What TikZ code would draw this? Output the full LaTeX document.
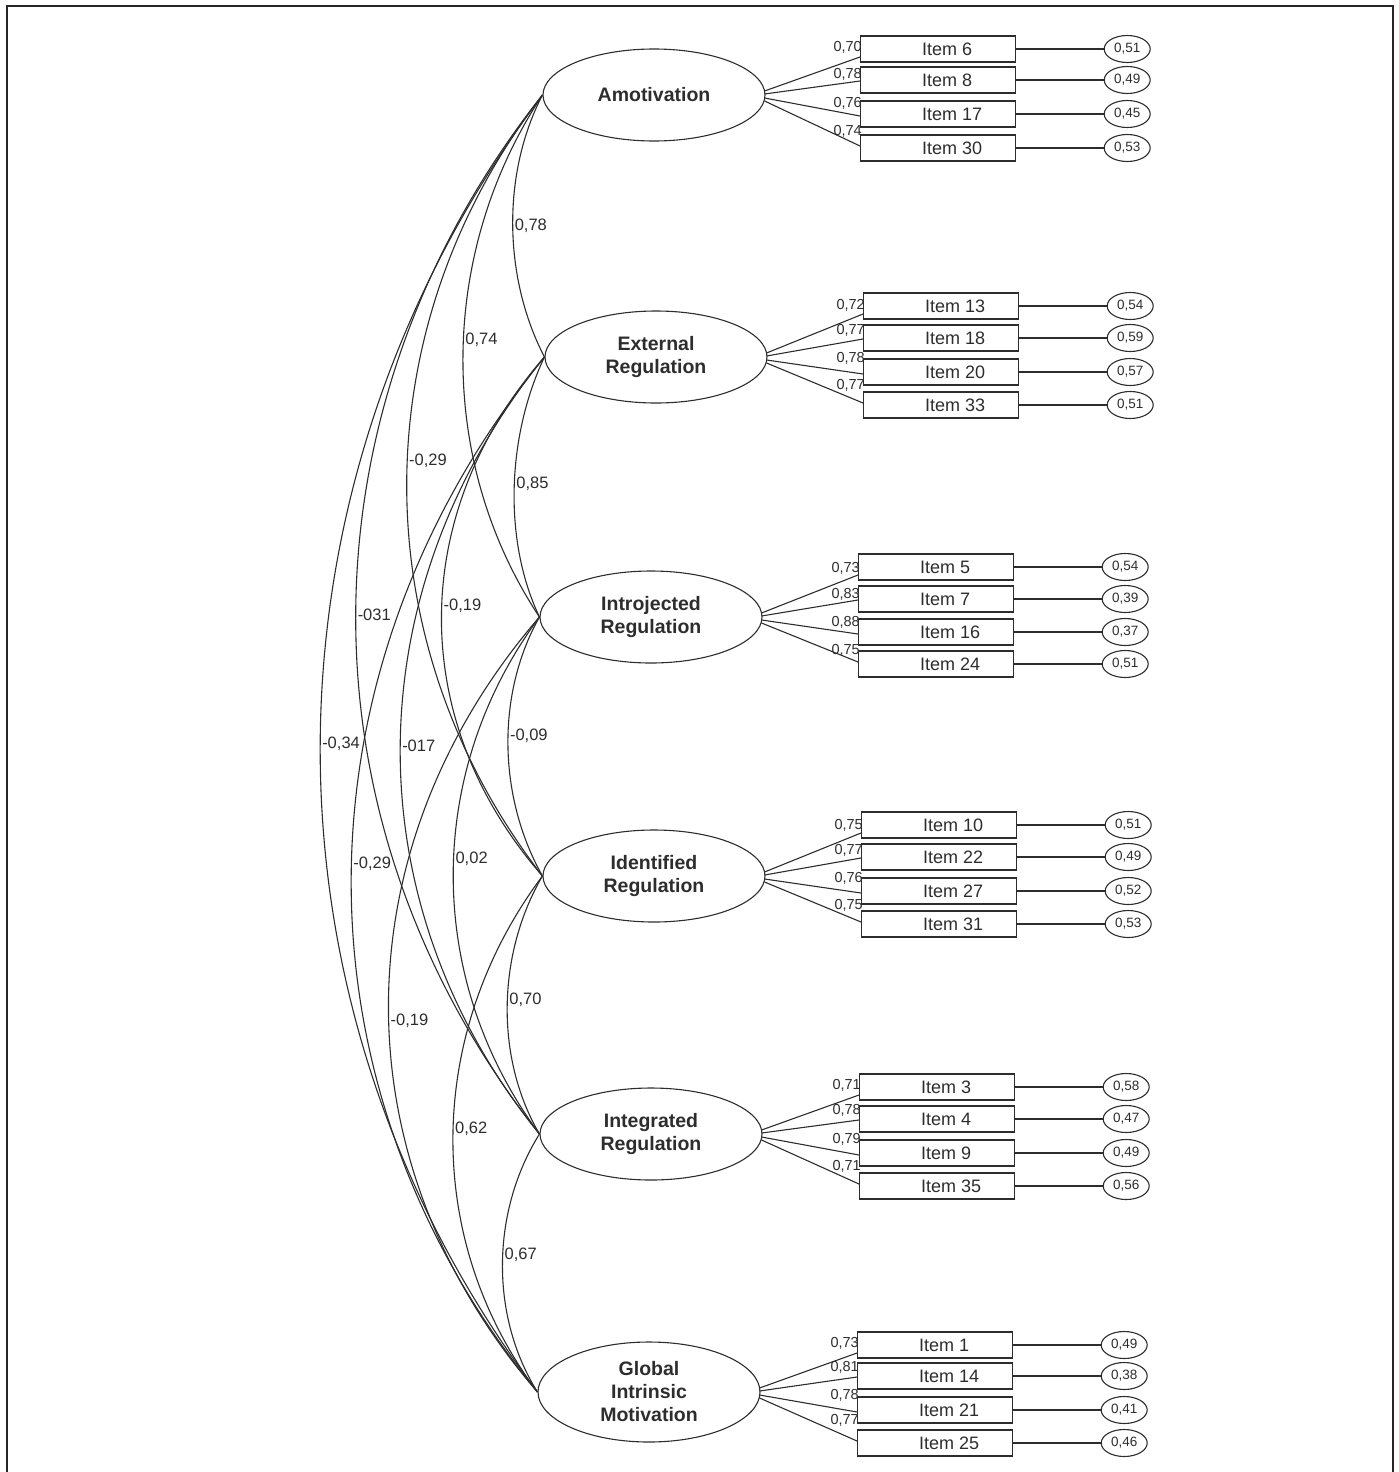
\documentclass[tikz,border=0pt]{standalone}
\usepackage{fontspec}
\setmainfont{Liberation Sans}
\usetikzlibrary{shapes.geometric,calc}
\definecolor{ink}{RGB}{45,45,45}
\newcommand{\myrow}[9]{%
  \node[itembox, anchor=west] (it#3) at (#2,#4) {};
  \node[itemtxt] at ($(it#3.west)+(62,0)$) {Item #3};
  \node[errell] (er#3) at ($(it#3.east)+(111,0)$) {#7};
  \draw[ln] (it#3.east) -- (er#3.west);
  \draw[ln] ($(#1.east)+(-1,#8)$) -- ($(it#3.west)+(0,#9)$);
  \node[llab] at (#2+2,#6) {#5};
}
\begin{document}
\begin{tikzpicture}[x=1pt,y=-1pt,
  every node/.style={text=ink},
  latent/.style={ellipse, draw=ink, line width=1.1pt, minimum width=222pt, minimum height=92pt, inner sep=0pt, align=center, font=\fontsize{19.5}{23}\selectfont\bfseries},
  itembox/.style={rectangle, draw=ink, line width=1.2pt, minimum width=155pt, minimum height=26pt, inner sep=0pt},
  itemtxt/.style={font=\fontsize{18}{20}\selectfont, inner sep=0pt, anchor=west},
  errell/.style={ellipse, draw=ink, line width=1.1pt, minimum width=46pt, minimum height=27pt, inner sep=0pt, font=\fontsize{13.5}{15}\selectfont},
  ln/.style={draw=ink, line width=1.1pt},
  corr/.style={draw=ink, line width=1.1pt},
  clab/.style={anchor=west, inner sep=1.5pt, font=\fontsize{16.5}{18}\selectfont},
  llab/.style={anchor=east, inner sep=0pt, font=\fontsize{14.5}{16}\selectfont}]
\useasboundingbox (0,0) rectangle (1399,1472);
\draw[line width=2.5pt, draw=black!85] (7,1475) -- (7,6) -- (1393,6) -- (1393,1475);

% latent factors
\node[latent] (amo) at (654,95) {Amotivation};
\node[latent] (ext) at (656,357) {External\\Regulation};
\node[latent] (intro) at (651,617) {Introjected\\Regulation};
\node[latent] (ident) at (654,876) {Identified\\Regulation};
\node[latent] (integ) at (651,1134) {Integrated\\Regulation};
\node[latent, minimum height=100pt] (glob) at (649,1392) {Global\\Intrinsic\\Motivation};

% items
\myrow{amo}{860}{6}{49}{0,70}{47}{0,51}{-4}{8}
\myrow{amo}{860}{8}{80}{0,78}{74}{0,49}{-1}{1}
\myrow{amo}{860}{17}{114}{0,76}{103}{0,45}{3}{2}
\myrow{amo}{860}{30}{148}{0,74}{131}{0,53}{6}{-2}

\myrow{ext}{863}{13}{306}{0,72}{305}{0,54}{-4}{8}
\myrow{ext}{863}{18}{338}{0,77}{330}{0,59}{-1}{1}
\myrow{ext}{863}{20}{372}{0,78}{358}{0,57}{3}{2}
\myrow{ext}{863}{33}{405}{0,77}{385}{0,51}{6}{-2}

\myrow{intro}{858}{5}{567}{0,73}{568}{0,54}{-4}{8}
\myrow{intro}{858}{7}{599}{0,83}{594}{0,39}{-1}{1}
\myrow{intro}{858}{16}{632}{0,88}{622}{0,37}{3}{2}
\myrow{intro}{858}{24}{664}{0,75}{650}{0,51}{6}{-2}

\myrow{ident}{861}{10}{825}{0,75}{825}{0,51}{-4}{8}
\myrow{ident}{861}{22}{857}{0,77}{850}{0,49}{-1}{1}
\myrow{ident}{861}{27}{891}{0,76}{878}{0,52}{3}{2}
\myrow{ident}{861}{31}{924}{0,75}{905}{0,53}{6}{-2}

\myrow{integ}{859}{3}{1087}{0,71}{1085}{0,58}{-4}{8}
\myrow{integ}{859}{4}{1119}{0,78}{1110}{0,47}{-1}{1}
\myrow{integ}{859}{9}{1153}{0,79}{1139}{0,49}{3}{2}
\myrow{integ}{859}{35}{1186}{0,71}{1166}{0,56}{6}{-2}

\myrow{glob}{857}{1}{1345}{0,73}{1343}{0,49}{-4}{8}
\myrow{glob}{857}{14}{1376}{0,81}{1367}{0,38}{-1}{1}
\myrow{glob}{857}{21}{1410}{0,78}{1395}{0,41}{3}{2}
\myrow{glob}{857}{25}{1443}{0,77}{1420}{0,46}{6}{-2}

% correlations
\draw[corr] (amo.west) .. controls +(-41,79) and +(-41,-79) .. (ext.west) node[clab,pos=0.5]{0,78};
\draw[corr] (amo.west) .. controls +(-104,157) and +(-104,-157) .. (intro.west) node[clab,pos=0.47]{0,74};
\draw[corr] (amo.west) .. controls +(-181,234) and +(-181,-234) .. (ident.west) node[clab,pos=0.47]{-0,29};
\draw[corr] (amo.west) .. controls +(-247,312) and +(-247,-312) .. (integ.west) node[clab,pos=0.5]{-031};
\draw[corr] (amo.west) .. controls +(-293,389) and +(-293,-389) .. (glob.west) node[clab,pos=0.5]{-0,34};

\draw[corr] (ext.west) .. controls +(-37,78) and +(-37,-78) .. (intro.west) node[clab,pos=0.49]{0,85};
\draw[corr] (ext.west) .. controls +(-136,156) and +(-136,-156) .. (ident.west) node[clab,pos=0.48]{-0,19};
\draw[corr] (ext.west) .. controls +(-189,233) and +(-189,-233) .. (integ.west) node[clab,pos=0.5]{-017};
\draw[corr] (ext.west) .. controls +(-253,310) and +(-253,-310) .. (glob.west) node[clab,pos=0.49]{-0,29};

\draw[corr] (intro.west) .. controls +(-44,78) and +(-44,-78) .. (ident.west) node[clab,pos=0.46]{-0,09};
\draw[corr] (intro.west) .. controls +(-115,155) and +(-115,-155) .. (integ.west) node[clab,pos=0.47]{0,02};
\draw[corr] (intro.west) .. controls +(-200,232) and +(-200,-232) .. (glob.west) node[clab,pos=0.52]{-0,19};

\draw[corr] (ident.west) .. controls +(-45,77) and +(-45,-77) .. (integ.west) node[clab,pos=0.48]{0,70};
\draw[corr] (ident.west) .. controls +(-116,155) and +(-116,-155) .. (glob.west) node[clab,pos=0.49]{0,62};

\draw[corr] (integ.west) .. controls +(-48,77) and +(-48,-77) .. (glob.west) node[clab,pos=0.47]{0,67};
\end{tikzpicture}
\end{document}
